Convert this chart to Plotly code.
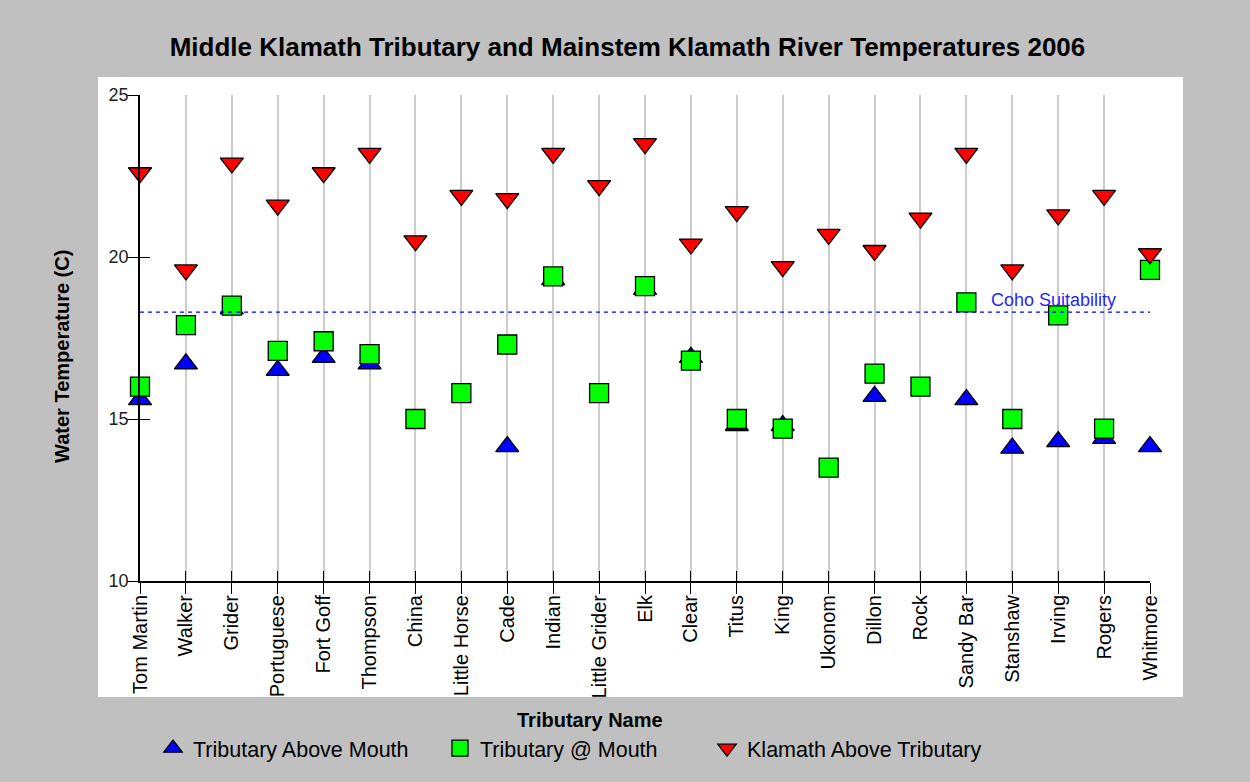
import plotly.graph_objects as go

categories = ["Tom Martin", "Walker", "Grider", "Portuguese", "Fort Goff", "Thompson",
              "China", "Little Horse", "Cade", "Indian", "Little Grider", "Elk", "Clear",
              "Titus", "King", "Ukonom", "Dillon", "Rock", "Sandy Bar", "Stanshaw",
              "Irving", "Rogers", "Whitmore"]

trib_above_mouth = [15.6, 16.7, 18.4, 16.5, 16.9, 16.7, None, None, 14.15, 19.3, None, 19.0,
                    16.9, 14.8, 14.8, None, 15.7, None, 15.6, 14.1, 14.3, 14.4, 14.15]
trib_at_mouth = [16.0, 17.9, 18.5, 17.1, 17.4, 17.0, 15.0, 15.8, 17.3, 19.4, 15.8, 19.1,
                 16.8, 15.0, 14.7, 13.5, 16.4, 16.0, 18.6, 15.0, 18.2, 14.7, 19.6]
klamath_above = [22.6, 19.6, 22.9, 21.6, 22.6, 23.2, 20.5, 21.9, 21.8, 23.2, 22.2, 23.5,
                 20.4, 21.4, 19.7, 20.7, 20.2, 21.2, 23.2, 19.6, 21.3, 21.9, 20.1]

coho_threshold = 18.3
y_ticks = [10, 15, 20, 25]

FONT = "Liberation Sans, Arial, sans-serif"
n = len(categories)

fig = go.Figure()

fig.add_trace(go.Scatter(
    x=categories, y=trib_above_mouth, mode="markers", name="Tributary Above Mouth",
    legend="legend", cliponaxis=False,
    marker=dict(symbol="triangle-up", size=20, color="#0000FF",
                line=dict(color="black", width=1.3))))
fig.add_trace(go.Scatter(
    x=categories, y=trib_at_mouth, mode="markers", name="Tributary @ Mouth",
    legend="legend2", cliponaxis=False,
    marker=dict(symbol="square", size=19, color="#00FF00",
                line=dict(color="black", width=1.3))))
fig.add_trace(go.Scatter(
    x=categories, y=klamath_above, mode="markers", name="Klamath Above Tributary",
    legend="legend3", cliponaxis=False,
    marker=dict(symbol="triangle-down", size=20, color="#FF0000",
                line=dict(color="black", width=1.3))))

# dummy trace for overlay axes (inner tick marks)
fig.add_trace(go.Scatter(x=[0], y=[10], xaxis="x2", yaxis="y2", mode="markers",
                         marker=dict(opacity=0), showlegend=False, hoverinfo="skip"))

shapes = [
    # white panel behind the plot
    dict(type="rect", xref="paper", yref="paper", x0=-0.0416, x1=1.0327,
         y0=-0.2387, y1=1.037, fillcolor="white", line=dict(width=0), layer="below"),
    # Coho suitability line
    dict(type="line", xref="x", yref="y", x0=0, x1=n - 1,
         y0=coho_threshold, y1=coho_threshold,
         line=dict(color="#0000FF", width=1.3, dash="4px,4px"), layer="above"),
]

annotations = [
    dict(x=18.5, y=coho_threshold, xref="x", yref="y", text="Coho Suitability",
         showarrow=False, xanchor="left", yanchor="bottom", yshift=0,
         font=dict(family=FONT, size=18, color="#2828F0")),
    dict(text="<b>Water Temperature (C)</b>", xref="paper", yref="paper",
         x=-0.0772, y=0.461, xanchor="center", yanchor="middle", textangle=-90,
         showarrow=False, font=dict(family=FONT, size=20, color="black")),
    dict(text="<b>Tributary Name</b>", xref="paper", yref="paper",
         x=0.4455, y=-0.286, xanchor="center", yanchor="middle", showarrow=False,
         font=dict(family=FONT, size=20, color="black")),
]

legend_common = dict(orientation="h", xanchor="left", y=-0.344, yanchor="middle",
                     font=dict(family=FONT, size=21.5, color="black"),
                     bgcolor="rgba(0,0,0,0)", itemsizing="trace")

fig.update_layout(
    width=1250, height=782,
    paper_bgcolor="#C0C0C0", plot_bgcolor="white",
    margin=dict(l=140, r=100, t=95, b=201),
    font=dict(family=FONT, color="black"),
    title=dict(text="<b>Middle Klamath Tributary and Mainstem Klamath River Temperatures 2006</b>",
               x=0.502, xref="container", y=1 - 47 / 782, yref="container",
               xanchor="center", yanchor="middle",
               font=dict(family=FONT, size=26, color="black")),
    xaxis=dict(type="category", categoryorder="array", categoryarray=categories,
               range=[0, n - 1], showgrid=True, gridcolor="#CCCCCC", gridwidth=1.5,
               showline=True, linecolor="black", linewidth=2, ticks="outside",
               ticklen=11, tickcolor="black", tickwidth=1.3, tickangle=-90,
               ticklabelstandoff=-7,
               tickfont=dict(family=FONT, size=20, color="black"), zeroline=False),
    yaxis=dict(range=[10, 25], tickvals=y_ticks, showgrid=False, zeroline=False,
               showline=True, linecolor="black", linewidth=1.5, ticks="outside",
               ticklen=11, tickcolor="black", tickwidth=1.3, ticklabelstandoff=-5,
               tickfont=dict(family=FONT, size=18, color="#222222")),
    xaxis2=dict(overlaying="x", anchor="y2", range=[0, n - 1],
                tickvals=list(range(n)), showticklabels=False, showgrid=False,
                zeroline=False, showline=False, ticks="inside", ticklen=10,
                tickcolor="black", tickwidth=1.3),
    yaxis2=dict(overlaying="y", anchor="x2", range=[10, 25], tickvals=y_ticks,
                showticklabels=False, showgrid=False, zeroline=False, showline=False,
                ticks="inside", ticklen=10, tickcolor="black", tickwidth=1.3),
    legend=dict(x=0.0129, **legend_common),
    legend2=dict(x=0.297, **legend_common),
    legend3=dict(x=0.5614, **legend_common),
    shapes=shapes,
    annotations=annotations,
)

fig.write_html("out.html", config={"displayModeBar": False},
               post_script="document.body.style.margin='0px';"
                           "document.body.style.background='#C0C0C0';")
